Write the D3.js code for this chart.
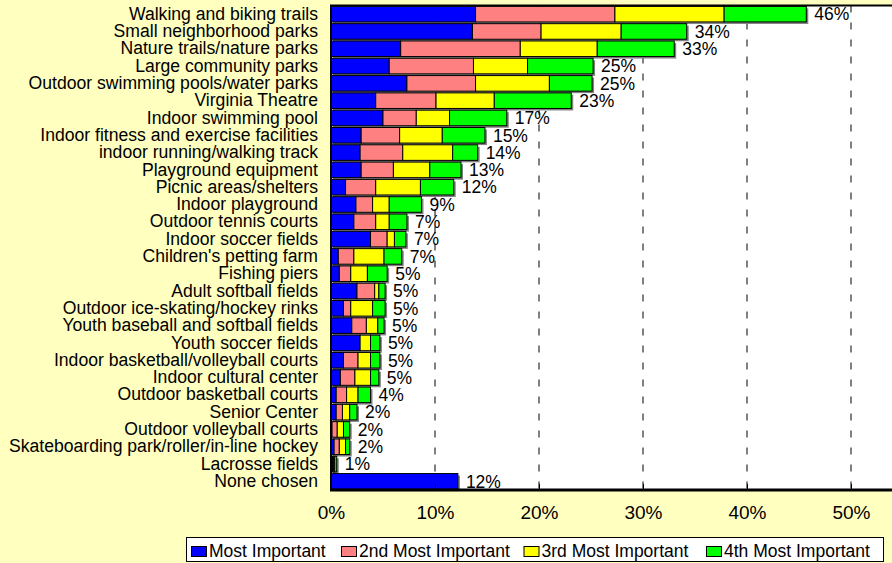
<!DOCTYPE html>
<html>
<head>
<meta charset="utf-8">
<script src="https://cdn.jsdelivr.net/npm/d3@7"></script>
<style>
  html, body { margin: 0; padding: 0; background: #FFFFC0; }
  svg { display: block; font-family: "Liberation Sans", Arial, sans-serif; }
</style>
</head>
<body>
<div id="chart"></div>
<script>
const categories = [
  "Walking and biking trails", "Small neighborhood parks", "Nature trails/nature parks",
  "Large community parks", "Outdoor swimming pools/water parks", "Virginia Theatre",
  "Indoor swimming pool", "Indoor fitness and exercise facilities", "indoor running/walking track",
  "Playground equipment", "Picnic areas/shelters", "Indoor playground", "Outdoor tennis courts",
  "Indoor soccer fields", "Children's petting farm", "Fishing piers", "Adult softball fields",
  "Outdoor ice-skating/hockey rinks", "Youth baseball and softball fields", "Youth soccer fields",
  "Indoor basketball/volleyball courts", "Indoor cultural center", "Outdoor basketball courts",
  "Senior Center", "Outdoor volleyball courts", "Skateboarding park/roller/in-line hockey",
  "Lacrosse fields", "None chosen"
];

// percent of respondents
const mostImportant = [13.9, 13.6, 6.7, 5.6, 7.3, 4.3, 5.0, 2.9, 2.8, 2.9, 1.4, 2.4, 2.2, 3.8,
  0.7, 0.8, 2.5, 1.2, 2.0, 2.8, 1.2, 0.9, 0.5, 0.5, 0.1, 0.3, 0.15, 12.2];
const secondImportant = [13.4, 6.6, 11.5, 8.1, 6.6, 5.8, 3.2, 3.7, 4.1, 3.1, 2.9, 1.6, 2.1, 1.6,
  1.5, 1.1, 1.7, 0.7, 1.4, 0, 1.4, 1.4, 1.0, 0.6, 0.5, 0.5, 0.1, 0];
const thirdImportant = [10.5, 7.7, 7.4, 5.2, 7.1, 5.6, 3.2, 4.1, 4.8, 3.5, 4.3, 1.6, 1.3, 0.7,
  2.9, 1.6, 0.4, 2.1, 1.1, 1.0, 1.2, 1.5, 1.1, 0.7, 0.6, 0.6, 0.1, 0];
const fourthImportant = [7.9, 6.3, 7.4, 6.3, 4.1, 7.4, 5.5, 4.1, 2.4, 3.0, 3.2, 3.1, 1.7, 1.1,
  1.7, 1.9, 0.6, 1.2, 0.6, 0.9, 0.9, 0.8, 1.2, 0.7, 0.6, 0.4, 0.2, 0];
const totalLabels = ["46%", "34%", "33%", "25%", "25%", "23%", "17%", "15%", "14%", "13%", "12%",
  "9%", "7%", "7%", "7%", "5%", "5%", "5%", "5%", "5%", "5%", "5%", "4%", "2%", "2%", "2%", "1%", "12%"];

const seriesNames = ["Most Important", "2nd Most Important", "3rd Most Important", "4th Most Important"];
const seriesKeys = ["most", "second", "third", "fourth"];
const xTicks = [0, 10, 20, 30, 40, 50];

const COLORS = ["#0000FF", "#FF8080", "#FFFF00", "#00FF00"];
const W = 892, H = 563;
const PLOT = { LEFT: 331, TOP: 5.5, BOTTOM: 490 };

const data = categories.map((c, i) => ({
  name: c,
  most: mostImportant[i],
  second: secondImportant[i],
  third: thirdImportant[i],
  fourth: fourthImportant[i],
  label: totalLabels[i]
}));

const stacked = d3.stack().keys(seriesKeys)(data);

const svg = d3.select("#chart").append("svg")
  .attr("width", W)
  .attr("height", H);

svg.append("rect").attr("width", W).attr("height", H).attr("fill", "#FFFFC0");

const x = d3.scaleLinear().domain([0, 60]).range([PLOT.LEFT, PLOT.LEFT + 624]);
const y = d3.scaleBand()
  .domain(categories)
  .range([PLOT.TOP, PLOT.BOTTOM])
  .paddingInner(0.1)
  .paddingOuter(0.05);

// plot area
svg.append("rect")
  .attr("x", PLOT.LEFT).attr("y", PLOT.TOP)
  .attr("width", W - PLOT.LEFT + 5).attr("height", PLOT.BOTTOM - PLOT.TOP)
  .attr("fill", "#FFFFFF");

// dashed gridlines
svg.append("g")
  .selectAll("line")
  .data(xTicks.slice(1))
  .enter().append("line")
  .attr("x1", d => x(d)).attr("x2", d => x(d))
  .attr("y1", PLOT.TOP).attr("y2", PLOT.BOTTOM)
  .attr("stroke", "#000")
  .attr("stroke-width", 1)
  .attr("stroke-dasharray", "7,10");

// bar shadows
svg.append("g")
  .selectAll("rect")
  .data(data)
  .enter().append("rect")
  .attr("x", x(0) + 2)
  .attr("y", d => y(d.name) + 2)
  .attr("width", d => x(d.most + d.second + d.third + d.fourth) - x(0))
  .attr("height", y.bandwidth())
  .attr("fill", "#808080");

// stacked segments
svg.append("g")
  .selectAll("g")
  .data(stacked)
  .enter().append("g")
  .attr("fill", (d, i) => COLORS[i])
  .selectAll("rect")
  .data(d => d.filter(s => s[1] - s[0] > 0))
  .enter().append("rect")
  .attr("x", d => x(d[0]))
  .attr("y", d => y(d.data.name))
  .attr("width", d => x(d[1]) - x(d[0]))
  .attr("height", y.bandwidth())
  .attr("stroke", "#000")
  .attr("stroke-width", 1);

// total labels
svg.append("g")
  .selectAll("text")
  .data(data)
  .enter().append("text")
  .attr("x", d => x(d.most + d.second + d.third + d.fourth) + 8)
  .attr("y", d => y(d.name) + y.bandwidth() / 2)
  .attr("dy", "0.36em")
  .attr("font-size", "17.5px")
  .attr("fill", "#000")
  .text(d => d.label);

// axes
const yAxis = d3.axisLeft(y).tickSize(0).tickPadding(13);
svg.append("g")
  .attr("transform", `translate(${PLOT.LEFT},0)`)
  .call(yAxis)
  .call(g => g.select(".domain").remove())
  .selectAll("text")
  .attr("font-size", "17.6px")
  .attr("font-family", "Liberation Sans, Arial, sans-serif")
  .attr("fill", "#000");

const xAxis = d3.axisBottom(x).tickValues(xTicks).tickFormat(d => d + "%")
  .tickSizeInner(-6).tickSizeOuter(0).tickPadding(16);
svg.append("g")
  .attr("transform", `translate(0,${PLOT.BOTTOM})`)
  .call(xAxis)
  .call(g => g.select(".domain").remove())
  .call(g => g.selectAll("line").attr("stroke", "#000"))
  .selectAll("text")
  .attr("font-size", "19px")
  .attr("font-family", "Liberation Sans, Arial, sans-serif")
  .attr("fill", "#000");

// plot borders
svg.append("line")
  .attr("x1", PLOT.LEFT - 1).attr("x2", W).attr("y1", PLOT.TOP).attr("y2", PLOT.TOP)
  .attr("stroke", "#000").attr("stroke-width", 2);
svg.append("line")
  .attr("x1", PLOT.LEFT - 1).attr("x2", W).attr("y1", PLOT.BOTTOM).attr("y2", PLOT.BOTTOM)
  .attr("stroke", "#000").attr("stroke-width", 3);
svg.append("line")
  .attr("x1", PLOT.LEFT).attr("x2", PLOT.LEFT).attr("y1", PLOT.TOP).attr("y2", PLOT.BOTTOM)
  .attr("stroke", "#000").attr("stroke-width", 2);

// legend
const legend = svg.append("g");
legend.append("rect")
  .attr("x", 186.5).attr("y", 537.5)
  .attr("width", 697).attr("height", 24)
  .attr("fill", "#FFFFFF")
  .attr("stroke", "#000")
  .attr("stroke-width", 1);
const legendX = [191, 341, 523.5, 706];
seriesNames.forEach((name, i) => {
  legend.append("rect")
    .attr("x", legendX[i] + 0.5).attr("y", 546.5)
    .attr("width", 15).attr("height", 10)
    .attr("fill", COLORS[i])
    .attr("stroke", "#000");
  legend.append("text")
    .attr("x", legendX[i] + 18)
    .attr("y", 557)
    .attr("font-size", "17.5px")
    .attr("fill", "#000")
    .text(name);
});
</script>
</body>
</html>
